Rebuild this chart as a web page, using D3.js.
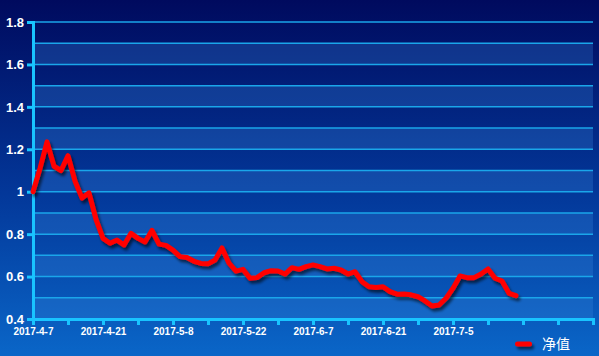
<!DOCTYPE html>
<html><head><meta charset="utf-8">
<script src="https://cdn.jsdelivr.net/npm/d3@7/dist/d3.min.js"></script>
<style>html,body{margin:0;padding:0;background:#000a5e;}svg{display:block;}</style>
</head><body>
<svg id="c" width="599" height="356"></svg>
<script>
const dates = ["2017-4-7","2017-4-10","2017-4-11","2017-4-12","2017-4-13","2017-4-14",
"2017-4-17","2017-4-18","2017-4-19","2017-4-20","2017-4-21",
"2017-4-24","2017-4-25","2017-4-26","2017-4-27","2017-4-28",
"2017-5-2","2017-5-3","2017-5-4","2017-5-5",
"2017-5-8","2017-5-9","2017-5-10","2017-5-11","2017-5-12",
"2017-5-15","2017-5-16","2017-5-17","2017-5-18","2017-5-19",
"2017-5-22","2017-5-23","2017-5-24","2017-5-25","2017-5-26",
"2017-5-31","2017-6-1","2017-6-2",
"2017-6-5","2017-6-6","2017-6-7","2017-6-8","2017-6-9",
"2017-6-12","2017-6-13","2017-6-14","2017-6-15","2017-6-16",
"2017-6-19","2017-6-20","2017-6-21","2017-6-22","2017-6-23",
"2017-6-26","2017-6-27","2017-6-28","2017-6-29","2017-6-30",
"2017-7-3","2017-7-4","2017-7-5","2017-7-6","2017-7-7",
"2017-7-10","2017-7-11","2017-7-12","2017-7-13","2017-7-14",
"2017-7-17","2017-7-18"];
const netValue = [1.00,1.11,1.235,1.12,1.10,1.17,1.05,0.97,0.995,0.87,
0.78,0.757,0.772,0.749,0.804,0.78,0.763,0.818,0.753,0.747,
0.725,0.694,0.69,0.672,0.662,0.66,0.678,0.735,0.663,0.626,
0.634,0.592,0.595,0.618,0.628,0.626,0.612,0.642,0.634,0.647,
0.655,0.647,0.636,0.639,0.631,0.612,0.623,0.576,0.552,0.549,
0.552,0.529,0.517,0.518,0.514,0.505,0.485,0.461,0.466,0.498,
0.545,0.603,0.595,0.595,0.612,0.636,0.592,0.579,0.521,0.51];
const seriesName = "净值";
const totalSlots = 81;
const yTicks = [0.4,0.6,0.8,1.0,1.2,1.4,1.6,1.8];
const yGrid = [0.4,0.5,0.6,0.7,0.8,0.9,1.0,1.1,1.2,1.3,1.4,1.5,1.6,1.7,1.8];

const svg = d3.select("#c");
const W = 599, H = 356;
const L = 33, R = 593, T = 22, B = 319;

const defs = svg.append("defs");
const bg = defs.append("linearGradient").attr("id","bg").attr("x1",0).attr("y1",0).attr("x2",0).attr("y2",1);
bg.append("stop").attr("offset","0%").attr("stop-color","#000a5e");
bg.append("stop").attr("offset","55%").attr("stop-color","#03389a");
bg.append("stop").attr("offset","100%").attr("stop-color","#0a66c8");
const sh = defs.append("filter").attr("id","sh").attr("filterUnits","userSpaceOnUse")
  .attr("x",0).attr("y",0).attr("width",W).attr("height",H);
sh.append("feGaussianBlur").attr("in","SourceAlpha").attr("stdDeviation",1.5).attr("result","b");
sh.append("feOffset").attr("in","b").attr("dx",2).attr("dy",3).attr("result","o");
sh.append("feComponentTransfer").attr("in","o").attr("result","o2").append("feFuncA").attr("type","linear").attr("slope",0.6);
const mg = sh.append("feMerge");
mg.append("feMergeNode").attr("in","o2");
mg.append("feMergeNode").attr("in","SourceGraphic");

svg.append("rect").attr("width",W).attr("height",H).attr("fill","url(#bg)");

const x = d3.scalePoint().domain(d3.range(totalSlots)).range([L,R]);
const y = d3.scaleLinear().domain([0.4,1.8]).range([B,T]);

// bands
const bands = yGrid.slice(0,-1).filter((v,i)=>i%2===0);
svg.append("g").selectAll("rect").data(bands).join("rect")
  .attr("x",L).attr("width",R-L)
  .attr("y",d=>y(d+0.1)).attr("height",d=>y(d)-y(d+0.1))
  .attr("fill","#3a8ae0").attr("fill-opacity",0.28);

// grid
svg.append("g").selectAll("line").data(yGrid).join("line")
  .attr("x1",L).attr("x2",R).attr("y1",d=>y(d)).attr("y2",d=>y(d))
  .attr("stroke","#1aa6ea").attr("stroke-width",1.5);

// y axis
const yAxis = d3.axisLeft(y).tickValues(yTicks).tickSize(6).tickPadding(3)
  .tickFormat(d=>d3.format("")(+d.toFixed(1)));
const ya = svg.append("g").attr("transform",`translate(${L},0)`).call(yAxis);
ya.select(".domain").attr("stroke","#19c4ff").attr("stroke-width",3);
ya.selectAll(".tick line").attr("stroke","#19c4ff").attr("stroke-width",3);
ya.selectAll("text").attr("fill","#ffffff").style("font","bold 13px 'Liberation Sans', Arial, sans-serif");

// x axis
const xAxis = d3.axisBottom(x).tickValues(d3.range(0,totalSlots,5)).tickSize(6).tickPadding(3)
  .tickFormat(i => (i%10===0 && i < dates.length) ? dates[i] : "");
const xa = svg.append("g").attr("transform",`translate(0,${B})`).call(xAxis);
xa.select(".domain").attr("stroke","#19c4ff").attr("stroke-width",3);
xa.selectAll(".tick line").attr("stroke","#19c4ff").attr("stroke-width",3);
xa.selectAll("text").attr("fill","#ffffff").style("font","bold 10px 'Liberation Sans', Arial, sans-serif");

// line
const line = d3.line().x((d,i)=>x(i)).y(d=>y(d));
svg.append("path").datum(netValue).attr("d",line)
  .attr("fill","none").attr("stroke","#ff0000").attr("stroke-width",5)
  .attr("stroke-linejoin","round").attr("stroke-linecap","round")
  .attr("filter","url(#sh)");

// legend
const lg = svg.append("g");
lg.append("rect").attr("x",515).attr("y",341.5).attr("width",17).attr("height",5).attr("rx",2.5)
  .attr("fill","#ff0000").attr("filter","url(#sh)");
lg.append("text").attr("x",542).attr("y",349).text(seriesName)
  .attr("fill","#ffffff").style("font","14px 'Noto Sans CJK SC', sans-serif");
</script>
</body></html>
